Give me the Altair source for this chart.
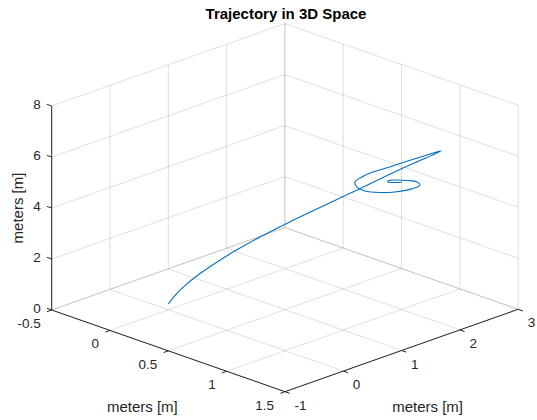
import altair as alt
import pandas as pd

# ---------------- data (meters) ----------------
traj_x = [0.000, 0.030, 0.064, 0.136, 0.250, 0.393, 0.514, 0.650, 0.800, 0.993, 1.169,
          1.096, 1.023, 0.950, 0.877, 0.830, 0.800, 0.809, 0.843, 0.907, 0.972, 1.023,
          1.062, 1.079, 1.066, 1.027, 0.980, 0.946, 0.941, 0.971, 1.001]
traj_y = [0.000, 0.060, 0.128, 0.272, 0.500, 0.786, 1.028, 1.300, 1.600, 1.986, 2.338,
          2.192, 2.046, 1.900, 1.754, 1.660, 1.600, 1.618, 1.686, 1.814, 1.944, 2.046,
          2.124, 2.158, 2.132, 2.054, 1.960, 1.892, 1.882, 1.942, 2.002]
traj_z = [0.23, 0.58, 0.89, 1.42, 2.11, 2.85, 3.41, 4.00, 4.65, 5.49, 6.22,
          6.02, 5.81, 5.59, 5.39, 5.20, 5.00, 4.80, 4.65, 4.59, 4.61, 4.68,
          4.78, 4.88, 5.00, 5.06, 5.08, 5.06, 5.00, 4.98, 4.99]

x_ticks = [-0.5, 0, 0.5, 1, 1.5]
y_ticks = [-1, 0, 1, 2, 3]
z_ticks = [0, 2, 4, 6, 8]
x_tick_labels = ["-0.5", "0", "0.5", "1", "1.5"]
y_tick_labels = ["-1", "0", "1", "2", "3"]
z_tick_labels = ["0", "2", "4", "6", "8"]
x_title = "meters [m]"
y_title = "meters [m]"
z_title = "meters [m]"
chart_title = "Trajectory in 3D Space"

# ---------------- projection (orthographic, MATLAB default 3-D view) ----------------
W, H = 537, 420
X0, X1 = x_ticks[0], x_ticks[-1]
Y0, Y1 = y_ticks[0], y_ticks[-1]
Z0, Z1 = z_ticks[0], z_ticks[-1]
OX, OY = 51.7, 310.0           # screen position of (X0, Y0, Z0)
EX = (116.65, 40.85)           # screen shift per unit x
EY = (58.3, -20.6)             # screen shift per unit y
EZ = (0.0, -25.5)              # screen shift per unit z


def proj_x(a, b, c):
    return f"{OX} + {EX[0]}*(datum.{a} - ({X0})) + {EY[0]}*(datum.{b} - ({Y0})) + {EZ[0]}*(datum.{c} - ({Z0}))"


def proj_y(a, b, c):
    return f"{OY} + {EX[1]}*(datum.{a} - ({X0})) + {EY[1]}*(datum.{b} - ({Y0})) + {EZ[1]}*(datum.{c} - ({Z0}))"


xs = alt.Scale(domain=[0, W], nice=False, zero=False)
ys = alt.Scale(domain=[0, H], nice=False, zero=False, reverse=True)

GRAY = "#262626"
FONT = "Liberation Sans"

# ---------------- segment tables ----------------
grid_rows = []
for xv in x_ticks:
    grid_rows.append((xv, Y0, Z0, xv, Y1, Z0))          # floor, constant x
    grid_rows.append((xv, Y1, Z0, xv, Y1, Z1))          # back wall y=Y1, vertical
for yv in y_ticks:
    grid_rows.append((X0, yv, Z0, X1, yv, Z0))          # floor, constant y
    grid_rows.append((X0, yv, Z0, X0, yv, Z1))          # back wall x=X0, vertical
for zv in z_ticks:
    grid_rows.append((X0, Y0, zv, X0, Y1, zv))          # wall x=X0, horizontal
    grid_rows.append((X0, Y1, zv, X1, Y1, zv))          # wall y=Y1, horizontal
cols = ["a1", "b1", "c1", "a2", "b2", "c2"]
grid_df = pd.DataFrame(grid_rows, columns=cols)

axis_rows = [(X0, Y0, Z0, X1, Y0, Z0), (X1, Y0, Z0, X1, Y1, Z0), (X0, Y0, Z0, X0, Y0, Z1)]
xr, yr = X1 - X0, Y1 - Y0
for xv in x_ticks:
    axis_rows.append((xv, Y0, Z0, xv, Y0 - 0.02 * yr, Z0))
for yv in y_ticks:
    axis_rows.append((X1, yv, Z0, X1 + 0.02 * xr, yv, Z0))
for zv in z_ticks:
    axis_rows.append((X0, Y0, zv, X0 - 0.02 * xr, Y0, zv))
axis_df = pd.DataFrame(axis_rows, columns=cols)


def seg_layer(df, color, opacity, width):
    return alt.Chart(df).transform_calculate(
        p1x=proj_x("a1", "b1", "c1"), p1y=proj_y("a1", "b1", "c1"),
        p2x=proj_x("a2", "b2", "c2"), p2y=proj_y("a2", "b2", "c2"),
    ).mark_rule(color=color, opacity=opacity, strokeWidth=width).encode(
        x=alt.X("p1x:Q", scale=xs, axis=None),
        y=alt.Y("p1y:Q", scale=ys, axis=None),
        x2="p2x:Q", y2="p2y:Q",
    )


grid = seg_layer(grid_df, GRAY, 0.15, 1)
axes = seg_layer(axis_df, GRAY, 1, 1)

traj_df = pd.DataFrame({"a": traj_x, "b": traj_y, "c": traj_z, "i": range(len(traj_x))})
traj = alt.Chart(traj_df).transform_calculate(
    px=proj_x("a", "b", "c"), py=proj_y("a", "b", "c")
).mark_line(color="#0072BD", strokeWidth=1.1, interpolate="catmull-rom").encode(
    x=alt.X("px:Q", scale=xs, axis=None),
    y=alt.Y("py:Q", scale=ys, axis=None),
    order="i:Q",
)


def label_layer(df, align, dx, dy, size):
    return alt.Chart(df).transform_calculate(
        px=proj_x("a", "b", "c"), py=proj_y("a", "b", "c")
    ).mark_text(align=align, baseline="middle", dx=dx, dy=dy, font=FONT,
                fontSize=size, color=GRAY).encode(
        x=alt.X("px:Q", scale=xs, axis=None),
        y=alt.Y("py:Q", scale=ys, axis=None),
        text="t:N",
    )


xl_df = pd.DataFrame({"a": x_ticks, "b": [Y0] * 5, "c": [Z0] * 5, "t": x_tick_labels})
yl_df = pd.DataFrame({"a": [X1] * 5, "b": y_ticks, "c": [Z0] * 5, "t": y_tick_labels})
zl_df = pd.DataFrame({"a": [X0] * 5, "b": [Y0] * 5, "c": z_ticks, "t": z_tick_labels})
xl = label_layer(xl_df, "right", -11, 14, 13.5)
yl = label_layer(yl_df, "left", 9.5, 14, 13.5)
zl = label_layer(zl_df, "right", -11, -1, 13.5)

# axis titles at the middle of each axis edge
xt_df = pd.DataFrame({"a": [(X0 + X1) / 2], "b": [Y0], "c": [Z0], "t": [x_title]})
yt_df = pd.DataFrame({"a": [X1], "b": [(Y0 + Y1) / 2], "c": [Z0], "t": [y_title]})
zt_df = pd.DataFrame({"a": [X0], "b": [Y0], "c": [(Z0 + Z1) / 2], "t": [z_title]})
xt = label_layer(xt_df, "center", -26, 56, 15)
yt = label_layer(yt_df, "center", 26, 56, 15)
zt = alt.Chart(zt_df).transform_calculate(
    px=proj_x("a", "b", "c"), py=proj_y("a", "b", "c")
).mark_text(align="center", baseline="middle", angle=270, dx=0, dy=-33.5, font=FONT,
            fontSize=15, color=GRAY).encode(
    x=alt.X("px:Q", scale=xs, axis=None),
    y=alt.Y("py:Q", scale=ys, axis=None),
    text="t:N",
)

title_df = pd.DataFrame({"t": [chart_title]})
title = alt.Chart(title_df).mark_text(
    align="center", baseline="alphabetic", font=FONT, fontSize=15, fontWeight="bold", color="#000000"
).encode(x=alt.value(286), y=alt.value(19), text="t:N")

chart = alt.layer(grid, traj, axes, xl, yl, zl, xt, yt, zt, title).properties(
    width=W, height=H, padding=0, autosize="none", background="white"
).configure_view(stroke=None)

chart.save("out.html", embed_options={"renderer": "svg", "actions": False})
